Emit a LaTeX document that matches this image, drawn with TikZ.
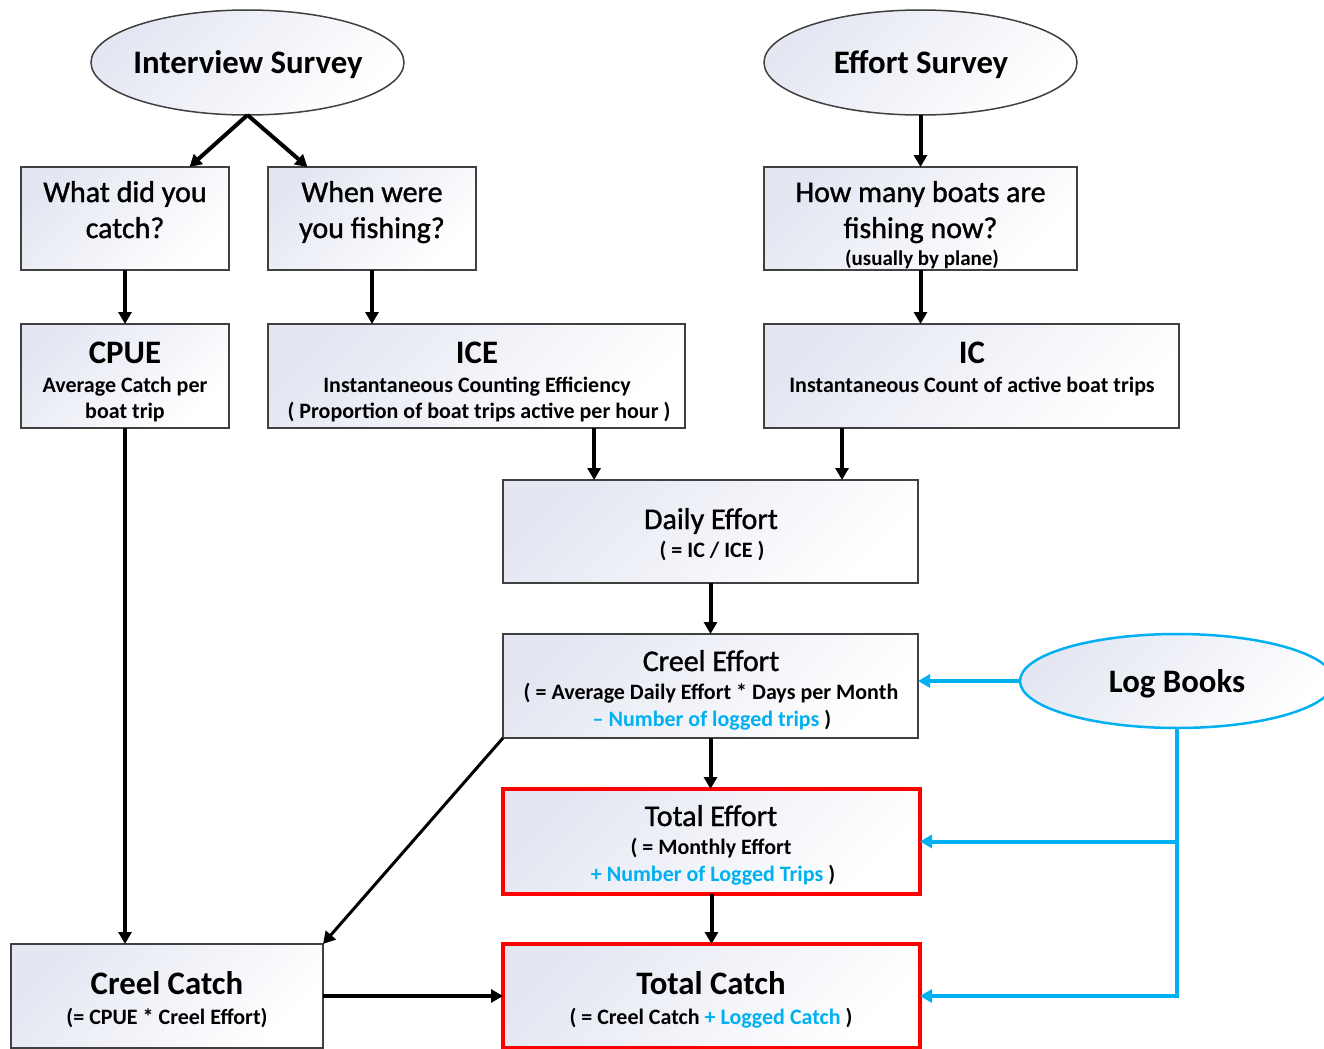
\documentclass[tikz,border=0pt]{standalone}
\usepackage{fontspec}
\setmainfont{Carlito}
\newfontfamily\semibfont[FakeBold=1.2]{Carlito}
\usetikzlibrary{arrows.meta,shapes.geometric,calc}

\definecolor{lbblue}{RGB}{0,176,240}
\definecolor{lbred}{RGB}{255,0,0}
\definecolor{lbedge}{RGB}{64,64,64}
\definecolor{lbshade}{RGB}{228,231,242}

\tikzset{
  fillgrad/.style={left color=lbshade, right color=white, shading angle=45},
  box/.style={draw=lbedge, line width=0.75pt, fillgrad, rectangle, inner sep=0pt, outer sep=0pt},
  redbox/.style={box, draw=lbred, line width=2pt},
  oval/.style={draw=lbedge, line width=0.75pt, fillgrad, ellipse, inner sep=0pt, outer sep=0pt},
  blueoval/.style={oval, draw=lbblue, line width=1.25pt},
  htext/.style={font=\bfseries\fontsize{16.4}{19}\selectfont, inner sep=0pt, anchor=base, yshift=-1pt},
  rtext/.style={font=\semibfont\fontsize{15}{18}\selectfont, inner sep=0pt, anchor=base, yshift=-1pt},
  stext/.style={font=\bfseries\fontsize{11}{13}\selectfont, inner sep=0pt, anchor=base, yshift=-0.75pt},
  arr/.style={line width=2pt, -{Triangle[length=6pt,width=6.5pt]}},
  thinarr/.style={line width=1.5pt, -{Triangle[length=6pt,width=6.5pt]}},
  barr/.style={draw=lbblue, line width=2pt, -{Triangle[length=6pt,width=6.5pt]}},
}

\begin{document}
\begin{tikzpicture}[x=0.5pt,y=-0.5pt]
\clip (0,0) rectangle (1324,1049);
\fill[white] (0,0) rectangle (1324,1049);

% survey ovals
\node[oval, minimum width=156.5pt, minimum height=52.5pt] (interview) at (247.5,62.5) {};
\node[htext] (interviewT) at (248,71.5) {Interview Survey};
\node[oval, minimum width=156.5pt, minimum height=52.5pt] (effort) at (920.5,62.5) {};
\node[htext] (effortT) at (921,71.5) {Effort Survey};

% question boxes
\node[box, minimum width=104pt, minimum height=51.5pt] (q1) at (125,218.5) {};
\node[rtext] (q1a) at (125,200) {What did you};
\node[rtext] (q1b) at (125,236) {catch?};
\node[box, minimum width=104pt, minimum height=51.5pt] (q2) at (372,218.5) {};
\node[rtext] (q2a) at (372,200) {When were};
\node[rtext] (q2b) at (372,236) {you fishing?};
\node[box, minimum width=156.5pt, minimum height=51.5pt] (q3) at (920.5,218.5) {};
\node[rtext] (q3a) at (920.5,200) {How many boats are};
\node[rtext] (q3b) at (920.5,236) {fishing now?};
\node[stext, font=\bfseries\fontsize{10.5}{12}\selectfont] (q3c) at (922,264) {(usually by plane)};

% estimate boxes
\node[box, minimum width=104pt, minimum height=52pt] (cpue) at (125,376) {};
\node[htext] (cpueT) at (125,361) {CPUE};
\node[stext] (cpueA) at (125,391) {Average Catch per};
\node[stext] (cpueB) at (125,417) {boat trip};

\node[box, minimum width=208.5pt, minimum height=52pt] (ice) at (476.5,376) {};
\node[htext] (iceT) at (477,361) {ICE};
\node[stext] (iceA) at (477,391) {Instantaneous Counting Efficiency};
\node[stext] (iceB) at (479,417) {( Proportion of boat trips active per hour )};

\node[box, minimum width=207.5pt, minimum height=52pt] (ic) at (971.5,376) {};
\node[htext] (icT) at (972,361) {IC};
\node[stext] (icA) at (972,391) {Instantaneous Count of active boat trips};

\node[box, minimum width=207.5pt, minimum height=51.5pt] (daily) at (710.5,531.5) {};
\node[rtext] (dailyT) at (711,527) {Daily Effort};
\node[stext] (dailyA) at (712,556) {( = IC / ICE )};

\node[box, minimum width=207.5pt, minimum height=52pt] (creeleff) at (710.5,686) {};
\node[rtext] (creeleffT) at (711,669) {Creel Effort};
\node[stext] (creeleffA) at (711,698) {( = Average Daily Effort * Days per Month};
\node[stext] (creeleffB) at (712,725) {\textcolor{lbblue}{-- Number of logged trips} )};

\node[redbox, minimum width=208.5pt, minimum height=52.5pt] (toteff) at (711.5,841.5) {};
\node[rtext] (toteffT) at (711,824) {Total Effort};
\node[stext] (toteffA) at (711,853) {( = Monthly Effort};
\node[stext] (toteffB) at (713,880) {\textcolor{lbblue}{+ Number of Logged Trips} )};

\node[box, minimum width=156pt, minimum height=52pt] (creelcatch) at (167,996) {};
\node[htext] (creelcatchT) at (167,992.5) {Creel Catch};
\node[stext] (creelcatchA) at (167,1023) {(= CPUE * Creel Effort)};

\node[redbox, minimum width=208.5pt, minimum height=52pt] (totcatch) at (711.5,996) {};
\node[htext] (totcatchT) at (711,992.5) {Total Catch};
\node[stext] (totcatchA) at (711,1023) {( = Creel Catch \textcolor{lbblue}{+ Logged Catch} )};

% log books
\node[blueoval, minimum width=157pt, minimum height=47pt] (logbooks) at (1177,681) {};
\node[htext] (logbooksT) at (1177,690.5) {Log Books};

% black connectors
\draw[arr] (interview.south) -- ($(q1.north west)!0.81!(q1.north east)$);
\draw[arr] (interview.south) -- ($(q2.north west)!0.19!(q2.north east)$);
\draw[arr] (effort.south) -- (q3.north);
\draw[arr] (q1.south) -- (cpue.north);
\draw[arr] (q2.south) -- (q2.south |- ice.north);
\draw[arr] (q3.south) -- (q3.south |- ic.north);
\coordinate (iceout) at ($(ice.south west)!0.782!(ice.south east)$);
\draw[arr] (iceout) -- (iceout |- daily.north);
\coordinate (icout) at ($(ic.south west)!0.188!(ic.south east)$);
\draw[arr] (icout) -- (icout |- daily.north);
\draw[arr] (daily.south) -- (creeleff.north);
\draw[arr] (creeleff.south) -- (creeleff.south |- toteff.north);
\draw[arr] (toteff.south) -- (toteff.south |- totcatch.north);
\draw[arr] (cpue.south) -- (cpue.south |- creelcatch.north);
\draw[thinarr] (creeleff.south west) -- (creelcatch.north east);
\draw[arr] (creelcatch.east) -- (totcatch.west);

% log book connectors
\draw[barr] (logbooks.west) -- (logbooks.west -| creeleff.east);
\draw[barr] (logbooks.south) |- (totcatch.east);
\draw[barr] (logbooks.south |- toteff.east) -- (toteff.east);
\end{tikzpicture}
\end{document}
